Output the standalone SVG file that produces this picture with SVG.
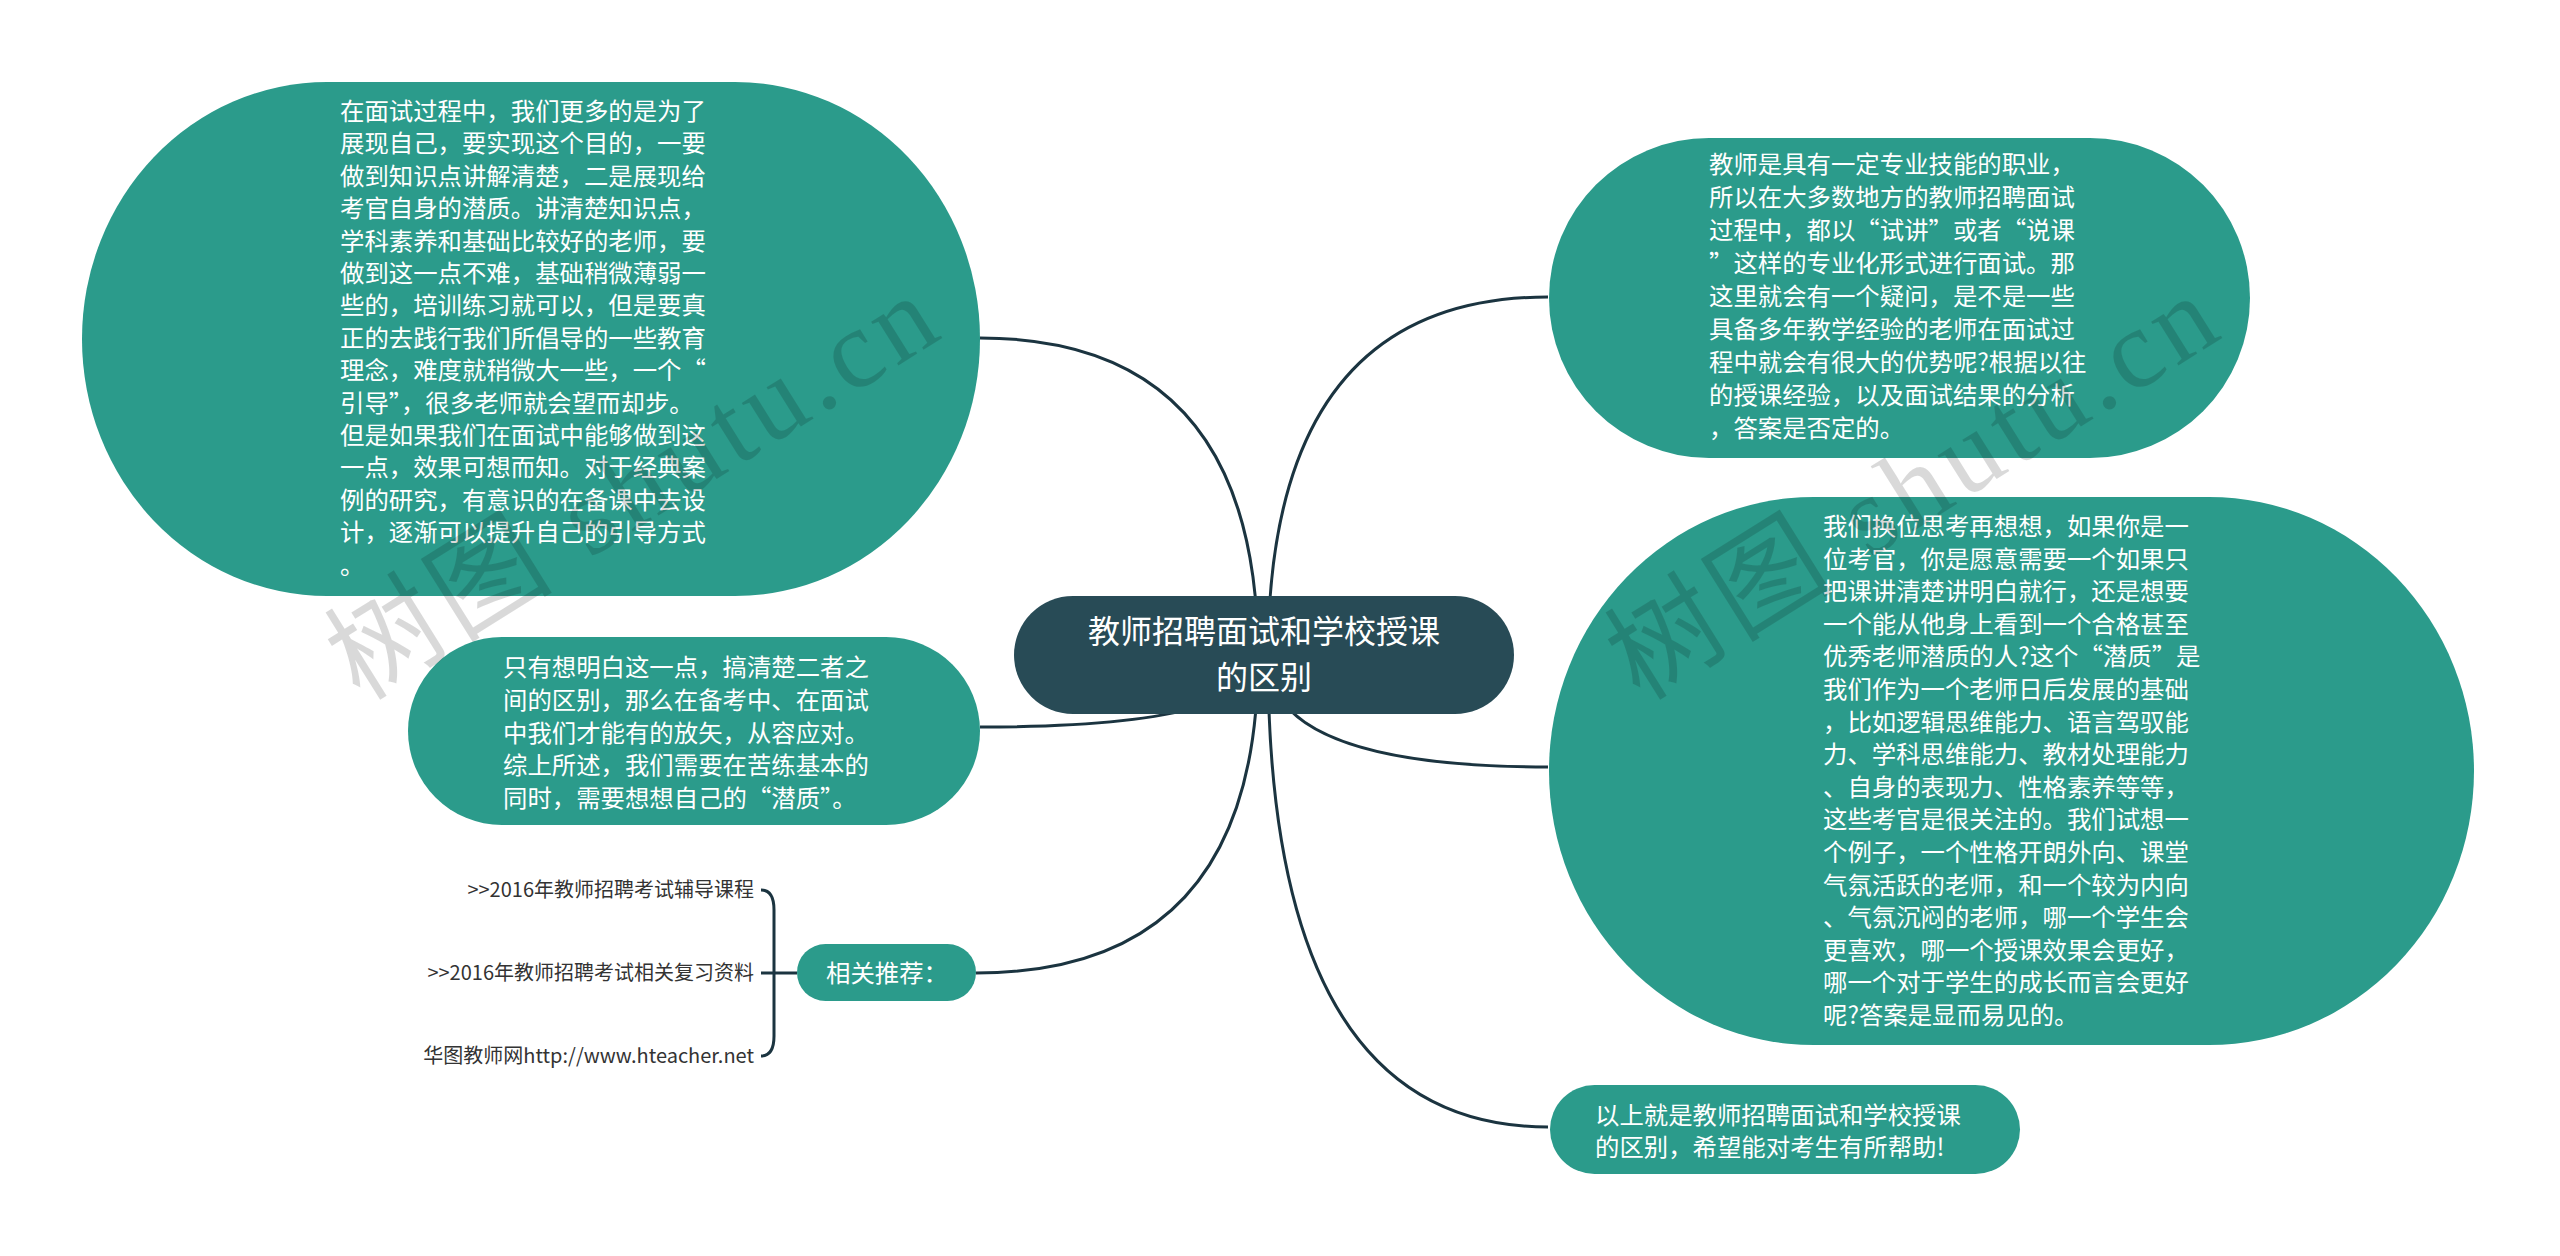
<svg xmlns="http://www.w3.org/2000/svg" width="2560" height="1256" viewBox="0 0 2560 1256">
<style>
.n{fill:#2b9b8b}
.root{fill:#284b56}
.t{font-family:"Noto Sans CJK SC","Noto Sans",sans-serif;font-size:24.4px;fill:#ffffff}
.rt{font-family:"Noto Sans CJK SC","Noto Sans",sans-serif;font-size:32px;fill:#ffffff;text-anchor:middle}
.leaf{font-family:"Noto Sans CJK SC","Noto Sans",sans-serif;font-size:20px;fill:#333333;text-anchor:end}
.c{fill:none;stroke:#1b3440;stroke-width:3}
.wm{font-family:"Liberation Serif","Noto Sans CJK SC",serif;font-size:112px;fill:#000000;fill-opacity:0.15;letter-spacing:6px}
</style>
<rect x="0" y="0" width="2560" height="1256" fill="#ffffff"/>
<g id="connectors">
<path class="c" d="M1258 657 Q1258 338 980 338"/>
<path class="c" d="M1268 657 Q1268 297 1548 297"/>
<path class="c" d="M1268 657 Q1268 767 1548 767"/>
<path class="c" d="M1258 657 Q1258 727 980 727"/>
<path class="c" d="M1258 657 Q1258 973 976 973"/>
<path class="c" d="M1268 657 Q1268 1127 1548 1127"/>
<path class="c" d="M761 890 Q774 890 774 910 L774 1036 Q774 1056 761 1056"/>
<path class="c" d="M761 973 L797 973"/>
</g>
<g id="node-root">
<rect class="root" x="1014" y="596" width="500" height="118" rx="59" ry="59"/>
<text class="rt" x="1264" y="643">教师招聘面试和学校授课</text>
<text class="rt" x="1264" y="689">的区别</text>
</g>
<g id="node-1">
<rect class="n" x="82" y="82" width="898" height="514" rx="245" ry="257"/>
<text class="t" y="120">
<tspan x="340">在面试过程中，我们更多的是为了</tspan>
<tspan x="340" dy="32.4">展现自己，要实现这个目的，一要</tspan>
<tspan x="340" dy="32.4">做到知识点讲解清楚，二是展现给</tspan>
<tspan x="340" dy="32.4">考官自身的潜质。讲清楚知识点，</tspan>
<tspan x="340" dy="32.4">学科素养和基础比较好的老师，要</tspan>
<tspan x="340" dy="32.4">做到这一点不难，基础稍微薄弱一</tspan>
<tspan x="340" dy="32.4">些的，培训练习就可以，但是要真</tspan>
<tspan x="340" dy="32.4">正的去践行我们所倡导的一些教育</tspan>
<tspan x="340" dy="32.4">理念，难度就稍微大一些，一个“</tspan>
<tspan x="340" dy="32.4">引导”，很多老师就会望而却步。</tspan>
<tspan x="340" dy="32.4">但是如果我们在面试中能够做到这</tspan>
<tspan x="340" dy="32.4">一点，效果可想而知。对于经典案</tspan>
<tspan x="340" dy="32.4">例的研究，有意识的在备课中去设</tspan>
<tspan x="340" dy="32.4">计，逐渐可以提升自己的引导方式</tspan>
<tspan x="340" dy="32.4">。</tspan>
</text>
</g>
<g id="node-2">
<rect class="n" x="1549" y="138" width="701" height="320" rx="160" ry="160"/>
<text class="t" y="173">
<tspan x="1709">教师是具有一定专业技能的职业，</tspan>
<tspan x="1709" dy="33">所以在大多数地方的教师招聘面试</tspan>
<tspan x="1709" dy="33">过程中，都以“试讲”或者“说课</tspan>
<tspan x="1709" dy="33">”这样的专业化形式进行面试。那</tspan>
<tspan x="1709" dy="33">这里就会有一个疑问，是不是一些</tspan>
<tspan x="1709" dy="33">具备多年教学经验的老师在面试过</tspan>
<tspan x="1709" dy="33">程中就会有很大的优势呢?根据以往</tspan>
<tspan x="1709" dy="33">的授课经验，以及面试结果的分析</tspan>
<tspan x="1709" dy="33">，答案是否定的。</tspan>
</text>
</g>
<g id="node-3">
<rect class="n" x="1549" y="497" width="925" height="548" rx="265" ry="274"/>
<text class="t" y="535">
<tspan x="1823">我们换位思考再想想，如果你是一</tspan>
<tspan x="1823" dy="32.6">位考官，你是愿意需要一个如果只</tspan>
<tspan x="1823" dy="32.6">把课讲清楚讲明白就行，还是想要</tspan>
<tspan x="1823" dy="32.6">一个能从他身上看到一个合格甚至</tspan>
<tspan x="1823" dy="32.6">优秀老师潜质的人?这个“潜质”是</tspan>
<tspan x="1823" dy="32.6">我们作为一个老师日后发展的基础</tspan>
<tspan x="1823" dy="32.6">，比如逻辑思维能力、语言驾驭能</tspan>
<tspan x="1823" dy="32.6">力、学科思维能力、教材处理能力</tspan>
<tspan x="1823" dy="32.6">、自身的表现力、性格素养等等，</tspan>
<tspan x="1823" dy="32.6">这些考官是很关注的。我们试想一</tspan>
<tspan x="1823" dy="32.6">个例子，一个性格开朗外向、课堂</tspan>
<tspan x="1823" dy="32.6">气氛活跃的老师，和一个较为内向</tspan>
<tspan x="1823" dy="32.6">、气氛沉闷的老师，哪一个学生会</tspan>
<tspan x="1823" dy="32.6">更喜欢，哪一个授课效果会更好，</tspan>
<tspan x="1823" dy="32.6">哪一个对于学生的成长而言会更好</tspan>
<tspan x="1823" dy="32.6">呢?答案是显而易见的。</tspan>
</text>
</g>
<g id="node-4">
<rect class="n" x="408" y="637" width="572" height="188" rx="94" ry="94"/>
<text class="t" y="676">
<tspan x="503">只有想明白这一点，搞清楚二者之</tspan>
<tspan x="503" dy="32.75">间的区别，那么在备考中、在面试</tspan>
<tspan x="503" dy="32.75">中我们才能有的放矢，从容应对。</tspan>
<tspan x="503" dy="32.75">综上所述，我们需要在苦练基本的</tspan>
<tspan x="503" dy="32.75">同时，需要想想自己的“潜质”。</tspan>
</text>
</g>
<g id="node-5">
<rect class="n" x="797" y="944" width="179" height="57" rx="28.5" ry="28.5"/>
<text class="t" x="887" y="982" text-anchor="middle">相关推荐：</text>
</g>
<g id="leaf-1"><text class="leaf" x="754" y="897">&gt;&gt;2016年教师招聘考试辅导课程</text></g>
<g id="leaf-2"><text class="leaf" x="754" y="980">&gt;&gt;2016年教师招聘考试相关复习资料</text></g>
<g id="leaf-3"><text class="leaf" x="754" y="1063">华图教师网http://www.hteacher.net</text></g>
<g id="node-6">
<rect class="n" x="1550" y="1085" width="470" height="89" rx="44.5" ry="44.5"/>
<text class="t" y="1124">
<tspan x="1595">以上就是教师招聘面试和学校授课</tspan>
<tspan x="1595" dy="32">的区别，希望能对考生有所帮助!</tspan>
</text>
</g>
<g id="watermarks">
<text class="wm" x="360" y="702" transform="rotate(-32 360 702)">树图 shutu.cn</text>
<text class="wm" x="1640" y="702" transform="rotate(-32 1640 702)">树图 shutu.cn</text>
</g>
</svg>
